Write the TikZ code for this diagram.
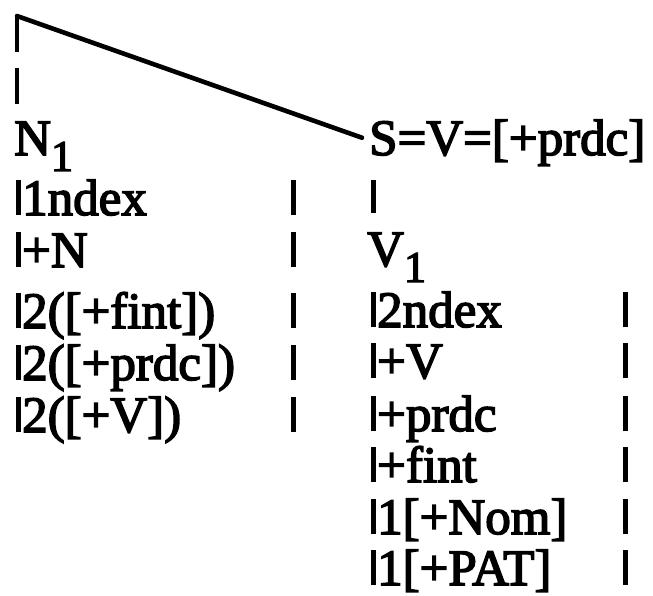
\documentclass[tikz,border=0pt]{standalone}
\usepackage{fontspec}
\setmainfont{Liberation Serif}
\newfontfamily\scanfont{Liberation Serif}[FakeBold=3]
\newcommand{\lowsub}[1]{\raisebox{-16pt}{\fontsize{44}{44}\selectfont #1}}

\begin{document}
\begin{tikzpicture}[x=1pt, y=-1pt,
    feat/.style={anchor=base west, inner sep=0pt, font=\scanfont\fontsize{51}{60}\selectfont},
    branch/.style={line width=4.6pt},
    featbar/.style={line width=5pt}]
    \useasboundingbox (0,0) rectangle (653,596);

    % The tree top
    \coordinate (root) at (17,16);
    \node[feat] (N1) at (14,155) {N\lowsub{1}};
    \node[feat] (S) at (369,155) {S=V=[+prdc]};
    \draw[branch, line cap=round] (root) -- ([xshift=-7pt,yshift=5pt]S.west);
    \draw[branch, dash pattern=on 36pt off 16pt, shorten >=17pt] (root) -- (root |- N1.north);

    % Column edges
    \coordinate (lcol) at (293,0);
    \coordinate (rcol) at (625,0);

    % Features of N_1
    \foreach \name/\yb/\txt in {l1/215/1ndex, l2/267/{+N}, l3/328/{2([+fint])},
                                l4/380/{2([+prdc])}, l5/432/{2([+V])}}
        \node[feat] (\name) at (22,\yb) {\txt};
    \foreach \name in {l1,l2,l3,l4,l5} {
        \draw[featbar] ([xshift=-4pt]\name.base west) -- ++(0,-35);
        \draw[featbar] (\name.base west -| lcol) -- ++(0,-35);
    }

    % S down to V_1
    \node[feat] (V1) at (367,266) {V\lowsub{1}};
    \draw[featbar, shorten <=25pt, shorten >=19pt] ([xshift=4pt]S.base west) -- ([xshift=4pt]S.base west |- V1.north);

    % Features of V_1
    \foreach \name/\yb/\txt in {r1/327/2ndex, r2/378/{+V}, r3/431/{+prdc},
                                r4/482/{+fint}, r5/534/{1[+Nom]}, r6/585/{1[+PAT]}}
        \node[feat] (\name) at (377,\yb) {\txt};
    \foreach \name in {r1,r2,r3,r4,r5,r6} {
        \draw[featbar] ([xshift=-4pt]\name.base west) -- ++(0,-35);
        \draw[featbar] (\name.base west -| rcol) -- ++(0,-35);
    }
\end{tikzpicture}
\end{document}
